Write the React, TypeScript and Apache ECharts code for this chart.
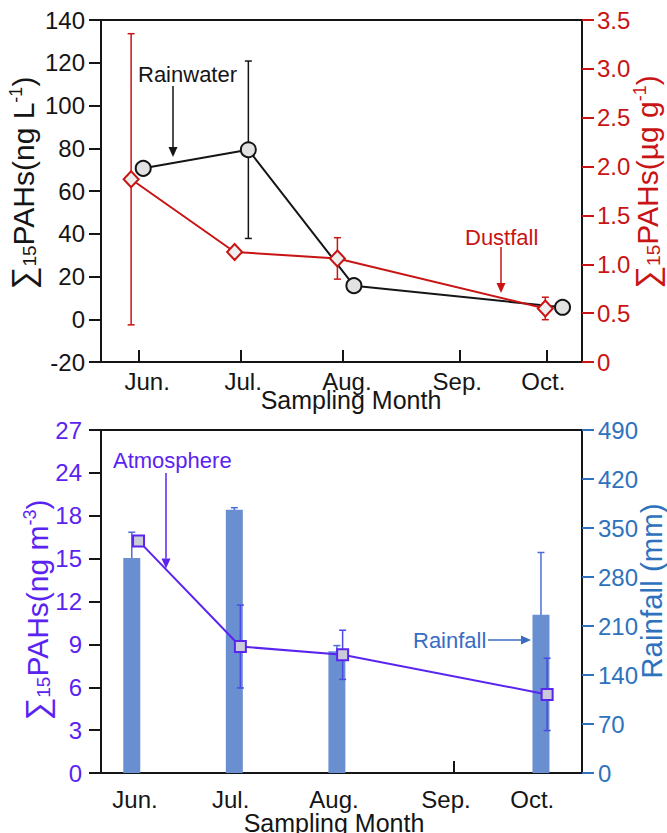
import React, { useEffect, useRef } from "react";
import * as echarts from "echarts";

// ---------- data ----------
const monthNames = ["Jun.", "Jul.", "Aug.", "Sep.", "Oct."];
// month tick positions on the (non-uniform) sampling-month axis
const monthTicks = [6, 7, 8, 9.14, 9.985];
const topLabelPos = [6.087, 7.023, 8.036, 9.113, 9.953];
const bottomLabelPos = [6.032, 6.964, 7.972, 9.064, 9.905];

// top panel: rainwater (ng/L, left axis)
const rainwaterX = [6.048, 7.074, 8.104, 10.14];
const rainwaterY = [70.6, 79.3, 15.7, 5.6];
const rainwaterErr = [0, 41.5, 0, 0];

// top panel: dustfall (µg/g, right axis)
const dustfallX = [5.93, 6.94, 7.943, 9.972];
const dustfallY = [1.87, 1.126, 1.06, 0.548];
const dustfallErr = [1.49, 0, 0.212, 0.115];

// bottom panel: rainfall (mm, right axis)
const rainfallX = [6.0, 7.0, 8.0, 9.99];
const rainfallY = [307, 376, 174, 226];
const rainfallErr = [37, 3, 8, 89];

// bottom panel: atmosphere (ng/m3, left axis)
const atmosX = [6.066, 7.059, 8.056, 10.05];
const atmosY = [16.24, 8.85, 8.27, 5.5];
const atmosErr = [0, 2.9, 1.72, 2.53];

// bottom-left tick labels as printed in the original figure
const atmosTickLabels = ["0", "3", "6", "9", "12", "15", "18", "24", "27"];

// ---------- styles ----------
const FONT = '"Liberation Sans", Arial, Helvetica, sans-serif';
const BLACK = "#151515";
const RED = "#c81414";
const PURPLE = "#5a24f0";
const BLUE = "#2e72be";
const BAR = "#6a8fd0";

function nearestIdx(arr: number[], v: number) {
  let best = 0;
  for (let i = 1; i < arr.length; i++) {
    if (Math.abs(arr[i] - v) < Math.abs(arr[best] - v)) best = i;
  }
  return best;
}

function errSeries(xs: number[], ys: number[], es: number[], xIdx: number, yIdx: number, color: string, z: number) {
  return {
    type: "custom",
    xAxisIndex: xIdx,
    yAxisIndex: yIdx,
    z,
    silent: true,
    clip: false,
    encode: { x: 0, y: 1 },
    data: xs.map((x, i) => [x, ys[i], es[i]]),
    renderItem: (params: any, api: any) => {
      const x = api.value(0);
      const y = api.value(1);
      const e = api.value(2);
      if (!e) return { type: "group", children: [] };
      const t = api.coord([x, y + e]);
      const b = api.coord([x, y - e]);
      const c = 3.5;
      const st = { stroke: color, lineWidth: 1.5 };
      return {
        type: "group",
        children: [
          { type: "line", shape: { x1: t[0], y1: t[1], x2: b[0], y2: b[1] }, style: st },
          { type: "line", shape: { x1: t[0] - c, y1: t[1], x2: t[0] + c, y2: t[1] }, style: st },
          { type: "line", shape: { x1: b[0] - c, y1: b[1], x2: b[0] + c, y2: b[1] }, style: st },
        ],
      };
    },
  };
}

function xAxisDef(gridIndex: number, min: number, max: number, labelPos: number[], margin: number) {
  return {
    type: "value",
    gridIndex,
    min,
    max,
    splitLine: { show: false },
    axisLine: { show: true, onZero: false, lineStyle: { color: BLACK, width: 2 } },
    axisTick: { show: true, inside: true, length: 12, customValues: monthTicks, lineStyle: { color: BLACK, width: 2 } },
    axisLabel: {
      customValues: labelPos,
      margin,
      color: BLACK,
      fontSize: 24,
      fontFamily: FONT,
      formatter: (v: number) => monthNames[nearestIdx(labelPos, v)],
    },
  };
}

function yAxisDef(gridIndex: number, position: string, min: number, max: number, interval: number,
  labelColor: string, tickColor: string, margin: number, formatter: any) {
  return {
    type: "value",
    gridIndex,
    position,
    min,
    max,
    interval,
    splitLine: { show: false },
    axisLine: { show: true, onZero: false, lineStyle: { color: BLACK, width: 2 } },
    axisTick: { show: true, inside: false, length: 12, lineStyle: { color: tickColor, width: 2 } },
    axisLabel: { margin, color: labelColor, fontSize: 24, fontFamily: FONT, formatter },
  };
}

function titleText(x: number, y: number, text: string, rich: any, color: string) {
  return {
    type: "text",
    x,
    y,
    rotation: Math.PI / 2,
    style: {
      text,
      rich,
      fill: color,
      align: "center",
      verticalAlign: "middle",
      fontFamily: FONT,
      fontSize: 30,
    },
  };
}

function richFor(color: string, size = 30) {
  return {
    m: { fontSize: size, fontFamily: FONT, color, lineHeight: 32, verticalAlign: "middle" },
    sg: { fontSize: 32, fontFamily: FONT, color, lineHeight: 32, verticalAlign: "middle" },
    sub: { fontSize: 19, fontFamily: FONT, color, lineHeight: 19, verticalAlign: "bottom" },
    sup: { fontSize: 18, fontFamily: FONT, color, lineHeight: 18, verticalAlign: "top" },
  };
}

function arrow(x1: number, y1: number, x2: number, y2: number, color: string) {
  const dx = x2 - x1;
  const dy = y2 - y1;
  const len = Math.sqrt(dx * dx + dy * dy);
  const ux = dx / len;
  const uy = dy / len;
  const hl = 10;
  const hw = 4.5;
  const bx = x2 - ux * hl;
  const by = y2 - uy * hl;
  return [
    { type: "line", shape: { x1, y1, x2: bx, y2: by }, style: { stroke: color, lineWidth: 1.5 } },
    {
      type: "polygon",
      shape: { points: [[bx - uy * hw, by + ux * hw], [bx + uy * hw, by - ux * hw], [x2, y2]] },
      style: { fill: color },
    },
  ];
}

function label(x: number, y: number, text: string, color: string, fontSize = 22, align = "left") {
  return {
    type: "text",
    x,
    y,
    style: { text, fill: color, fontSize, fontFamily: FONT, align, verticalAlign: "middle" },
  };
}

export default function App() {
  const ref = useRef<HTMLDivElement>(null);

  useEffect(() => {
    if (!ref.current) return;
    const chart = echarts.init(ref.current, undefined, { renderer: "svg" });

    const option: any = {
      animation: false,
      backgroundColor: "#ffffff",
      textStyle: { fontFamily: FONT },
      grid: [
        { left: 101, top: 20, width: 481, height: 342, show: true, borderColor: BLACK, borderWidth: 2, backgroundColor: "transparent" },
        { left: 101, top: 430, width: 481, height: 343, show: true, borderColor: BLACK, borderWidth: 2, backgroundColor: "transparent" },
      ],
      xAxis: [
        xAxisDef(0, 5.636, 10.33, topLabelPos, 7),
        xAxisDef(1, 5.7, 10.39, bottomLabelPos, 14),
      ],
      yAxis: [
        yAxisDef(0, "left", -20, 140, 20, BLACK, BLACK, 16, (v: number) => String(v)),
        yAxisDef(0, "right", 0, 3.5, 0.5, RED, RED, 15, (v: number) => (v === 0 ? "0" : v.toFixed(1))),
        yAxisDef(1, "left", 0, 24, 3, PURPLE, BLACK, 19, (v: number) => atmosTickLabels[Math.round(v / 3)]),
        yAxisDef(1, "right", 0, 490, 70, BLUE, BLUE, 16, (v: number) => String(v)),
      ],
      series: [
        errSeries(rainwaterX, rainwaterY, rainwaterErr, 0, 0, BLACK, 2),
        errSeries(dustfallX, dustfallY, dustfallErr, 0, 1, RED, 2),
        {
          type: "line",
          xAxisIndex: 0,
          yAxisIndex: 0,
          z: 3,
          data: rainwaterX.map((x, i) => [x, rainwaterY[i]]),
          symbol: "circle",
          symbolSize: 15,
          lineStyle: { color: BLACK, width: 2 },
          itemStyle: { color: "#e2e2e2", borderColor: BLACK, borderWidth: 2 },
        },
        {
          type: "line",
          xAxisIndex: 0,
          yAxisIndex: 1,
          z: 4,
          data: dustfallX.map((x, i) => [x, dustfallY[i]]),
          symbol: "diamond",
          symbolSize: [15, 16],
          lineStyle: { color: RED, width: 2 },
          itemStyle: { color: "#eeeeee", borderColor: RED, borderWidth: 2 },
        },
        errSeries(rainfallX, rainfallY, rainfallErr, 1, 3, "#4a6fd8", 1),
        {
          type: "bar",
          xAxisIndex: 1,
          yAxisIndex: 3,
          z: 2,
          barWidth: 17,
          data: rainfallX.map((x, i) => [x, rainfallY[i]]),
          itemStyle: { color: BAR },
        },
        errSeries(atmosX, atmosY, atmosErr, 1, 2, "#4a4ae4", 3),
        {
          type: "line",
          xAxisIndex: 1,
          yAxisIndex: 2,
          z: 4,
          data: atmosX.map((x, i) => [x, atmosY[i]]),
          symbol: "rect",
          symbolSize: 11,
          lineStyle: { color: PURPLE, width: 2 },
          itemStyle: { color: "#c9cbd8", borderColor: PURPLE, borderWidth: 2 },
        },
      ],
      graphic: [
        titleText(23, 183, "{sg|∑}{sub|15}{m|PAHs(ng L}{sup|-1}{m|)}", richFor(BLACK), BLACK),
        titleText(647, 182, "{sg|∑}{sub|15}{m|PAHs(µg g}{sup|-1}{m|)}", richFor(RED), RED),
        titleText(37, 610, "{sg|∑}{sub|15}{m|PAHs(ng m}{sup|-3}{m|)}", richFor(PURPLE), PURPLE),
        titleText(651, 591, "{m|Rainfall (mm)}", richFor(BLUE, 29.5), BLUE),
        label(351, 400, "Sampling Month", BLACK, 25, "center"),
        label(334, 823, "Sampling Month", BLACK, 25, "center"),
        label(138, 74, "Rainwater", BLACK),
        ...arrow(173, 86, 173, 157, BLACK),
        label(465, 237, "Dustfall", RED),
        ...arrow(501, 247, 501, 293, RED),
        label(113, 460, "Atmosphere", PURPLE),
        ...arrow(166, 473, 166, 568.5, PURPLE),
        label(413, 640, "Rainfall", "#3a6cc4"),
        ...arrow(488, 640, 531, 640, "#3a6cc4"),
      ],
    };

    chart.setOption(option);
    return () => chart.dispose();
  }, []);

  return (
    <div
      ref={ref}
      style={{ position: "fixed", left: 0, top: 0, width: 667, height: 833, background: "#fff" }}
    />
  );
}
